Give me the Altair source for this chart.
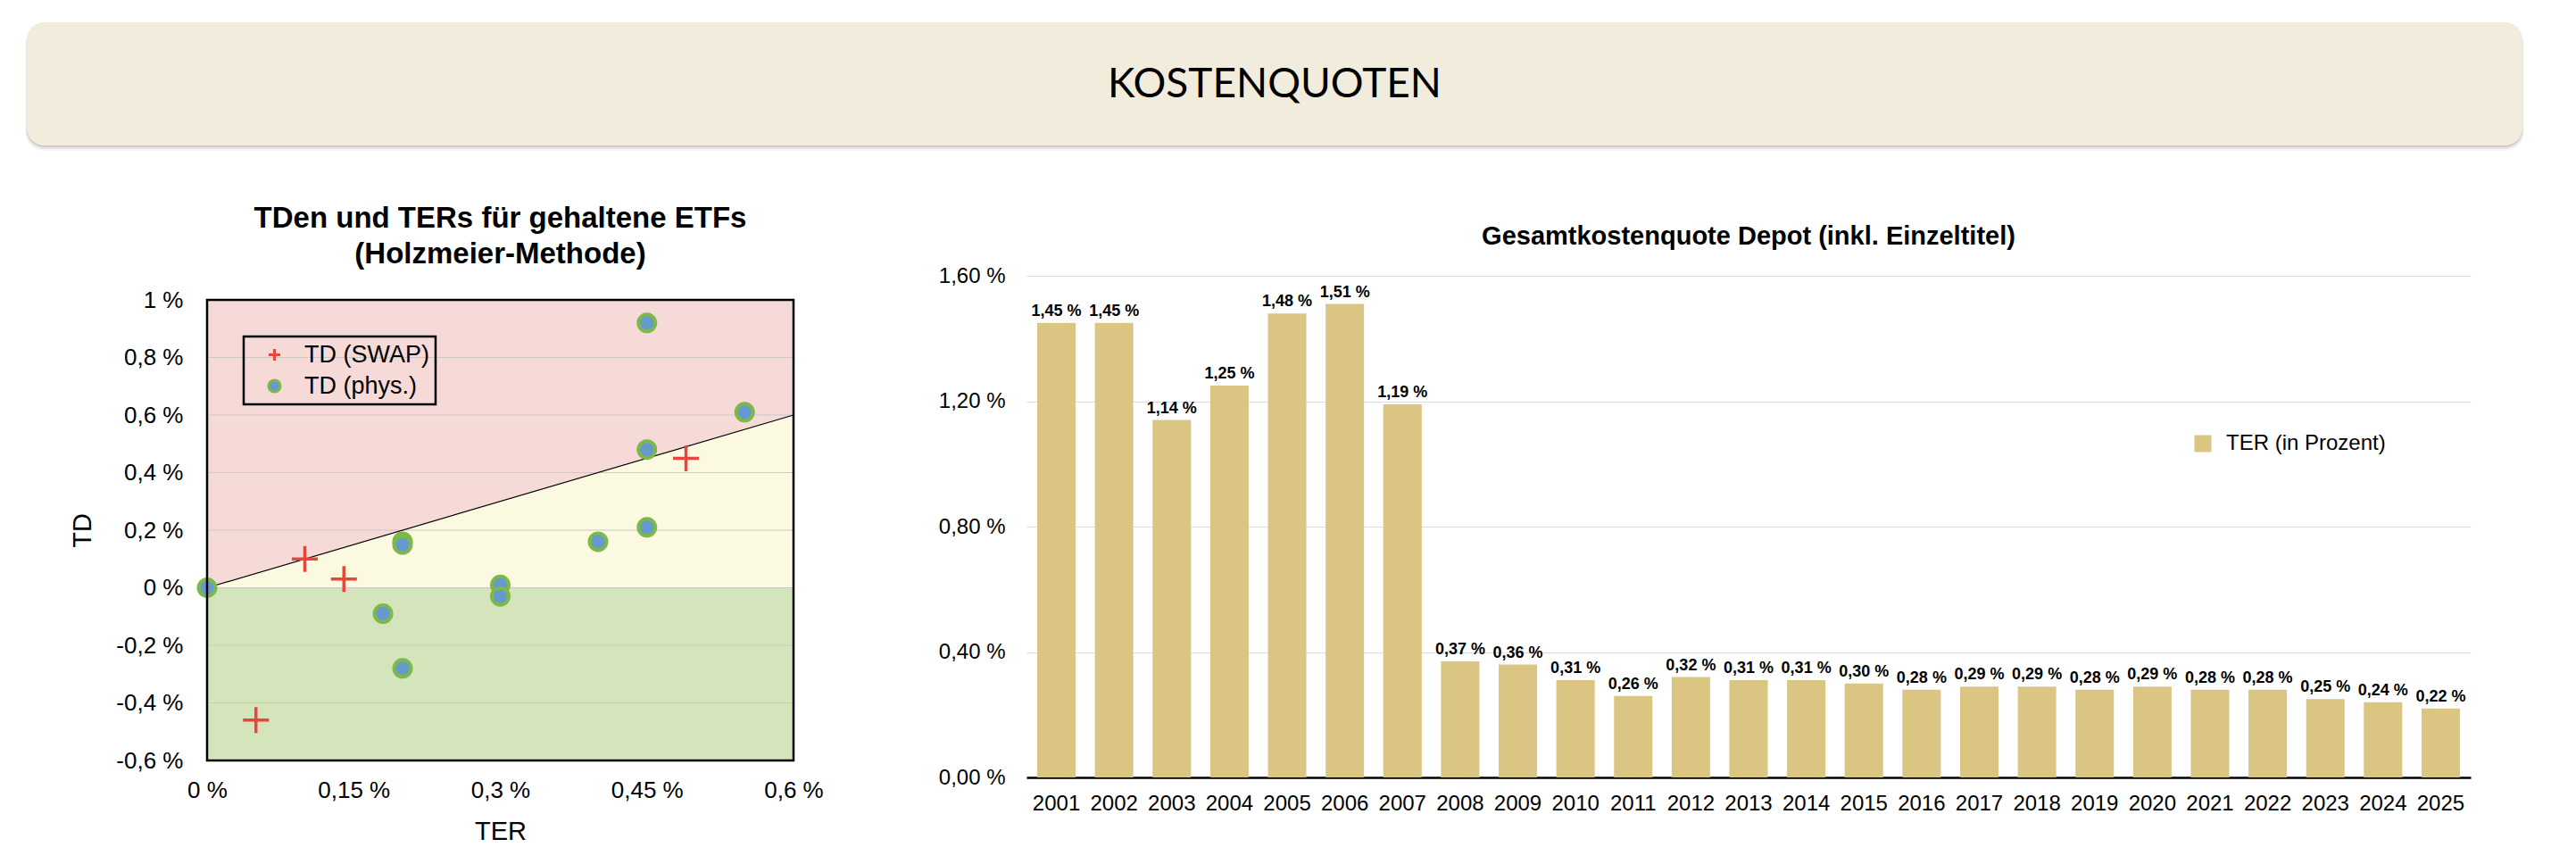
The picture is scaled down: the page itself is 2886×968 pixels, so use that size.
import altair as alt
import pandas as pd

# ---------------- data: left scatter (TD vs TER) ----------------
series_names = ["TD (SWAP)", "TD (phys.)"]
swap_ter = [0.10, 0.14, 0.05, 0.49]
swap_td = [0.10, 0.03, -0.46, 0.45]
phys_ter = [0.00, 0.45, 0.55, 0.45, 0.45, 0.40, 0.20, 0.20, 0.30, 0.30, 0.18, 0.20]
phys_td = [0.00, 0.92, 0.61, 0.48, 0.21, 0.16, 0.16, 0.15, 0.01, -0.03, -0.09, -0.28]
ter_ticks = [0, 0.15, 0.3, 0.45, 0.6]
td_ticks = [-0.6, -0.4, -0.2, 0, 0.2, 0.4, 0.6, 0.8, 1.0]
td_grid = [-0.4, -0.2, 0, 0.2, 0.4, 0.6, 0.8]

# ---------------- data: right bars (TER per year) ----------------
years = ["2001", "2002", "2003", "2004", "2005", "2006", "2007", "2008", "2009",
         "2010", "2011", "2012", "2013", "2014", "2015", "2016", "2017", "2018",
         "2019", "2020", "2021", "2022", "2023", "2024", "2025"]
ter_pct = [1.45, 1.45, 1.14, 1.25, 1.48, 1.51, 1.19, 0.37, 0.36, 0.31, 0.26, 0.32,
           0.31, 0.31, 0.30, 0.28, 0.29, 0.29, 0.28, 0.29, 0.28, 0.28, 0.25, 0.24, 0.22]
ter_axis_ticks = [0, 0.4, 0.8, 1.2, 1.6]
bar_series = "TER (in Prozent)"

# ---------------- styles ----------------
PINK = "#F6DAD8"
YELLOW = "#FCF9E1"
GREEN_BG = "#D4E5BB"
BLUE = "#6699CC"
GREEN = "#7CB84A"
RED = "#E8463A"
TAN = "#DBC583"
BEIGE = "#F2ECDC"
CROSS = "M-1,0H1M0,-1V1"
FONT = "Liberation Sans"

LBL_SHORT = "replace(replace(format(datum.value, '~g'), '.', ','), '\u2212', '-') + ' %'"
LBL_2F = "replace(format(datum.value, '.2f'), '.', ',') + ' %'"

# layout constants (pixels)
WL, HL = 657, 543          # left view (frame occupies y 27..543)
FRAME_TOP = 27
WR, HR = 1618, 562         # right view
BANNER_X0, BANNER_W, BANNER_H = -202, 2796, 138

# ================= banner =================
one = pd.DataFrame({"t": ["KOSTENQUOTEN"]})
shadows = []
for dx, dy, op in [(-1, 6, 0.06), (-1, 4, 0.12), (0, 2, 0.22)]:
    shadows.append(
        alt.Chart(one).mark_rect(color="#7A7262", opacity=op, cornerRadius=20).encode(
            x=alt.value(BANNER_X0 + dx), x2=alt.value(BANNER_X0 + BANNER_W - dx),
            y=alt.value(dy), y2=alt.value(BANNER_H + dy)
        )
    )
banner_rect = alt.Chart(one).mark_rect(color=BEIGE, cornerRadius=20).encode(
    x=alt.value(BANNER_X0), x2=alt.value(BANNER_X0 + BANNER_W),
    y=alt.value(0), y2=alt.value(BANNER_H)
)
banner_text = alt.Chart(one).mark_text(
    font="Lato", fontSize=46, color="black", baseline="middle", align="center"
).encode(text="t:N", x=alt.value(BANNER_X0 + BANNER_W / 2), y=alt.value(70))
banner = alt.layer(*shadows, banner_rect, banner_text).properties(width=200, height=BANNER_H)

# ================= left chart =================
x_sc = alt.Scale(domain=[ter_ticks[0], ter_ticks[-1]], nice=False, zero=False)
y_sc = alt.Scale(domain=[td_ticks[0], td_ticks[-1]], range=[HL, FRAME_TOP], nice=False, zero=False)
x_axis = alt.Axis(values=ter_ticks, labelExpr=LBL_SHORT, title="TER", grid=False, ticks=False,
                  domain=False, labelFontSize=26, labelPadding=20, titleFontSize=29,
                  titleFontWeight="normal", titlePadding=19, labelFlush=False)
y_axis = alt.Axis(values=td_ticks, labelExpr=LBL_SHORT, title="TD", grid=False, ticks=False,
                  domain=False, labelFontSize=26, labelPadding=27, titleFontSize=29,
                  titleFontWeight="normal", titlePadding=22, labelFlush=False,
                  titleY=(HL + FRAME_TOP) / 2)

zone_df = pd.DataFrame({"x": [ter_ticks[0]], "x2": [ter_ticks[-1]],
                        "y": [td_ticks[0]], "y2": [td_ticks[-1]], "zero": [0]})
diag_df = pd.DataFrame({"ter": [ter_ticks[0], ter_ticks[-1]],
                        "td": [ter_ticks[0], ter_ticks[-1]], "zero": [0, 0]})


def X(field):
    return alt.X(field, scale=x_sc, axis=x_axis)


def Y(field):
    return alt.Y(field, scale=y_sc, axis=y_axis)


pink = alt.Chart(zone_df).mark_rect(color=PINK).encode(
    x=X("x:Q"), x2="x2:Q", y=Y("y:Q"), y2="y2:Q")
green = alt.Chart(zone_df).mark_rect(color=GREEN_BG).encode(
    x=X("x:Q"), x2="x2:Q", y=Y("y:Q"), y2="zero:Q")
yellow = alt.Chart(diag_df).mark_area(color=YELLOW).encode(
    x=X("ter:Q"), y=Y("td:Q"), y2="zero:Q")
grid = alt.Chart(pd.DataFrame({"v": td_grid})).mark_rule(color="#CFC7C7", strokeWidth=1).encode(
    y=Y("v:Q"))
diag = alt.Chart(diag_df).mark_line(color="black", strokeWidth=1.2).encode(
    x=X("ter:Q"), y=Y("td:Q"))

pts = pd.DataFrame({
    "TER": swap_ter + phys_ter,
    "TD": swap_td + phys_td,
    "Serie": [series_names[0]] * len(swap_ter) + [series_names[1]] * len(phys_ter),
})
shape_sc = alt.Scale(domain=series_names, range=[CROSS, "circle"])
fill_sc = alt.Scale(domain=series_names, range=["transparent", BLUE])
stroke_sc = alt.Scale(domain=series_names, range=[RED, GREEN])
leg = alt.Legend(title=None, orient="none", legendX=41, legendY=41 + FRAME_TOP,
                 strokeColor="black", padding=7, symbolOffset=14, labelOffset=20,
                 rowPadding=7, labelFontSize=27, labelLimit=400,
                 symbolSize=170, symbolStrokeWidth=3,
                 labelExpr="datum.label + '\u00a0\u00a0'")


def point_layer(name, size, sw):
    return alt.Chart(pts).transform_filter(alt.datum.Serie == name).mark_point(
        size=size, strokeWidth=sw, opacity=1
    ).encode(
        x=X("TER:Q"),
        y=Y("TD:Q"),
        shape=alt.Shape("Serie:N", scale=shape_sc, legend=leg),
        fill=alt.Fill("Serie:N", scale=fill_sc, legend=leg),
        stroke=alt.Stroke("Serie:N", scale=stroke_sc, legend=leg),
    )


phys_layer = point_layer(series_names[1], 360, 4)
swap_layer = point_layer(series_names[0], 841, 3.5)

frame = alt.Chart(zone_df).mark_rect(fill="transparent", stroke="black", strokeWidth=2.5).encode(
    x=X("x:Q"), x2="x2:Q", y=Y("y:Q"), y2="y2:Q")

left = alt.layer(pink, green, yellow, grid, diag, phys_layer, swap_layer, frame).properties(
    width=WL, height=HL,
    title=alt.TitleParams(["TDen und TERs für gehaltene ETFs", "(Holzmeier-Methode)"],
                          fontSize=33, fontWeight="bold", lineHeight=40, offset=7,
                          frame="group", anchor="middle"),
)

# ================= right chart =================
bar_df = pd.DataFrame({"Jahr": years, "TER": ter_pct, "Serie": [bar_series] * len(years)})
xb_sc = alt.Scale(paddingInner=0.334, paddingOuter=0.186)
yb_sc = alt.Scale(domain=[ter_axis_ticks[0], ter_axis_ticks[-1]], nice=False)
xb_axis = alt.Axis(title=None, labelAngle=0, ticks=False, domainColor="black",
                   domainWidth=2.5, labelFontSize=24, labelPadding=17, grid=False)
yb_axis = alt.Axis(values=ter_axis_ticks, labelExpr=LBL_2F, title=None, domain=False,
                   ticks=False, grid=True, gridColor="#DDDDDD", gridWidth=1,
                   labelFontSize=24, labelPadding=24)

bars = alt.Chart(bar_df).mark_bar().encode(
    x=alt.X("Jahr:O", scale=xb_sc, sort=None, axis=xb_axis),
    y=alt.Y("TER:Q", scale=yb_sc, axis=yb_axis),
    color=alt.Color("Serie:N", scale=alt.Scale(range=[TAN]),
                    legend=alt.Legend(title=None, orient="none", legendX=1306, legendY=176,
                                      symbolType="square", symbolSize=361,
                                      symbolStrokeWidth=0, labelFontSize=24, labelOffset=14,
                                      labelLimit=400, padding=0)),
)
bar_labels = alt.Chart(bar_df).transform_calculate(
    lbl="replace(format(datum.TER, '.2f'), '.', ',') + ' %'"
).mark_text(baseline="bottom", dy=-4, fontSize=18, fontWeight="bold", color="black").encode(
    x=alt.X("Jahr:O", scale=xb_sc, sort=None, axis=xb_axis),
    y=alt.Y("TER:Q", scale=yb_sc, axis=yb_axis),
    text="lbl:N",
)

right = alt.layer(bars, bar_labels).properties(
    width=WR, height=HR,
    title=alt.TitleParams("Gesamtkostenquote Depot (inkl. Einzeltitel)", fontSize=29,
                          fontWeight="bold", offset=17, frame="group", anchor="middle"),
)

row = alt.hconcat(left, right, spacing=128).resolve_scale(
    color="independent", shape="independent", fill="independent", stroke="independent"
)
chart = alt.vconcat(banner, row, spacing=60).properties(
    padding={"left": 21, "top": 17, "right": 5, "bottom": 5}
).configure(font=FONT).configure_view(strokeWidth=0).configure_axis(
    labelColor="black", titleColor="black", labelFont=FONT, titleFont=FONT
).configure_legend(
    strokeWidth=2.5, labelColor="black", labelFont=FONT
).configure_title(color="black", font=FONT)

chart.save("out.html", embed_options={"renderer": "svg", "actions": False})
